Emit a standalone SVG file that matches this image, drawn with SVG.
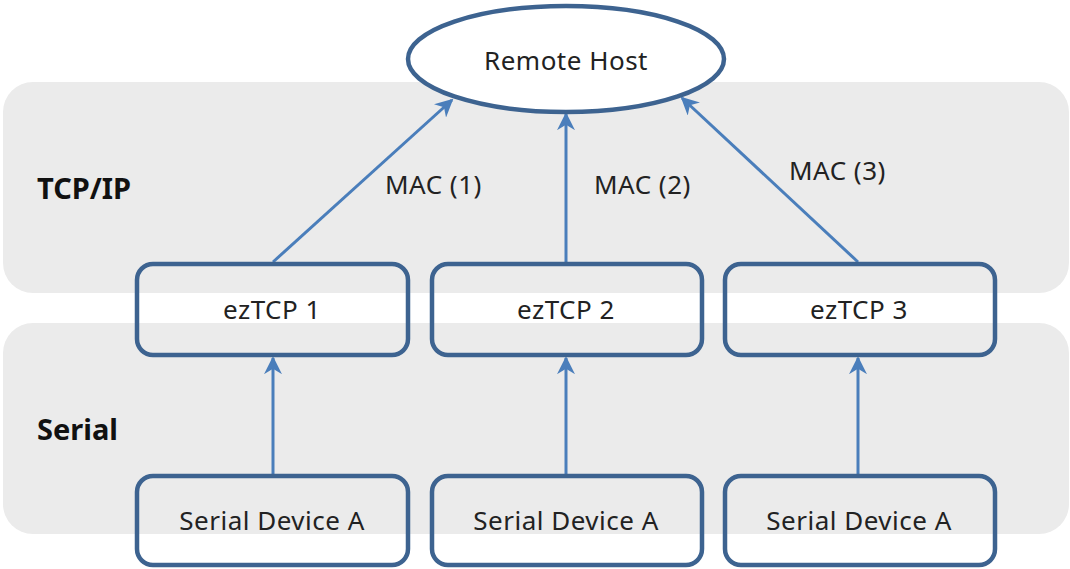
<svg xmlns="http://www.w3.org/2000/svg" width="1070" height="569" viewBox="0 0 1070 569">
<defs>
<style>
.band{fill:#ebebeb;}
.box{fill:none;stroke:#3d6390;stroke-width:4.5;}
.host{fill:#fff;stroke:#3d6390;stroke-width:4.5;}
.t{font-family:"Noto Sans","Open Sans",sans-serif;font-size:26px;letter-spacing:0.5px;fill:#222;text-anchor:middle;}
.lbl{font-family:"Noto Sans","Open Sans",sans-serif;font-size:26px;letter-spacing:0.5px;fill:#222;}
.hdr{font-family:"Noto Sans","Open Sans",sans-serif;font-size:29px;font-weight:bold;fill:#111;}
.con{stroke:#4a7ebb;stroke-width:3;fill:none;marker-end:url(#arr);}
</style>
<marker id="arr" viewBox="0 0 10 10" refX="9" refY="5" markerWidth="6" markerHeight="6" orient="auto" markerUnits="strokeWidth">
<path d="M0,0 L10,5 L0,10 L3,5 z" fill="#4a7ebb"/>
</marker>
</defs>
<g id="bands">
<rect class="band" x="3" y="82" width="1066" height="211" rx="30"/>
<rect class="band" x="3" y="323" width="1066" height="211" rx="30"/>
<text class="hdr" x="37" y="199">TCP/IP</text>
<text class="hdr" x="37" y="440">Serial</text>
</g>
<g id="connectors">
<line class="con" x1="273" y1="262" x2="452" y2="100"/>
<line class="con" x1="566" y1="262" x2="566" y2="114"/>
<line class="con" x1="858" y1="262" x2="682" y2="98"/>
<line class="con" x1="273" y1="474" x2="273" y2="358"/>
<line class="con" x1="566" y1="474" x2="566" y2="358"/>
<line class="con" x1="858" y1="474" x2="858" y2="358"/>
<text class="lbl" x="385" y="194">MAC (1)</text>
<text class="lbl" x="594" y="194">MAC (2)</text>
<text class="lbl" x="789" y="180">MAC (3)</text>
</g>
<g id="remote-host">
<ellipse class="host" cx="566" cy="59" rx="158" ry="53"/>
<text class="t" x="566" y="70">Remote Host</text>
</g>
<g id="eztcp1">
<rect class="box" x="137" y="264" width="271" height="91" rx="16"/>
<text class="t" x="272" y="319">ezTCP 1</text>
</g>
<g id="eztcp2">
<rect class="box" x="432" y="264" width="270" height="91" rx="16"/>
<text class="t" x="566" y="319">ezTCP 2</text>
</g>
<g id="eztcp3">
<rect class="box" x="725" y="264" width="270" height="91" rx="16"/>
<text class="t" x="859" y="319">ezTCP 3</text>
</g>
<g id="serial1">
<rect class="box" x="137" y="476" width="271" height="89" rx="16"/>
<text class="t" x="272" y="530">Serial Device A</text>
</g>
<g id="serial2">
<rect class="box" x="432" y="476" width="270" height="89" rx="16"/>
<text class="t" x="566" y="530">Serial Device A</text>
</g>
<g id="serial3">
<rect class="box" x="725" y="476" width="270" height="89" rx="16"/>
<text class="t" x="859" y="530">Serial Device A</text>
</g>
</svg>
